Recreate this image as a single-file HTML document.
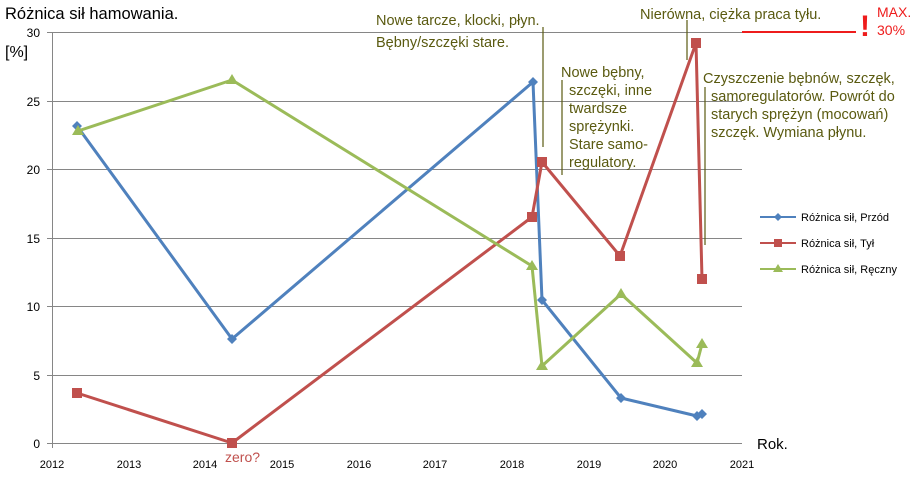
<!DOCTYPE html>
<html><head><meta charset="utf-8"><style>
body{margin:0;background:#fff;}
svg text{font-family:"Liberation Sans",sans-serif;}
</style></head><body>
<svg width="918" height="480" xmlns="http://www.w3.org/2000/svg">
<rect width="918" height="480" fill="#fff"/>
<g stroke="#868686" stroke-width="1">
<line x1="47" y1="32.5" x2="742" y2="32.5"/>
<line x1="47" y1="101.5" x2="742" y2="101.5"/>
<line x1="47" y1="169.5" x2="742" y2="169.5"/>
<line x1="47" y1="238.5" x2="742" y2="238.5"/>
<line x1="47" y1="306.5" x2="742" y2="306.5"/>
<line x1="47" y1="375.5" x2="742" y2="375.5"/>
<line x1="47" y1="443.5" x2="742" y2="443.5"/>
<line x1="52.5" y1="32" x2="52.5" y2="448"/>
</g>
<g font-size="12" fill="#000" text-anchor="end">
<text x="40" y="37">30</text><text x="40" y="106">25</text><text x="40" y="174">20</text>
<text x="40" y="243">15</text><text x="40" y="311">10</text><text x="40" y="380">5</text><text x="40" y="448">0</text>
</g>
<g font-size="11" fill="#000" text-anchor="middle">
<text x="52" y="468">2012</text><text x="129" y="468">2013</text><text x="205" y="468">2014</text>
<text x="282" y="468">2015</text><text x="359" y="468">2016</text><text x="435" y="468">2017</text>
<text x="512" y="468">2018</text><text x="589" y="468">2019</text><text x="665" y="468">2020</text><text x="742" y="468">2021</text>
</g>
<text x="5" y="19" font-size="16.5">Różnica sił hamowania.</text>
<text x="5" y="57" font-size="16">[%]</text>
<text x="757" y="449" font-size="15">Rok.</text>
<text x="225" y="462" font-size="14" fill="#c0504d">zero?</text>
<g fill="none" stroke-width="3" stroke-linejoin="round">
<polyline stroke="#4f81bd" points="77,126 232,339 533,82 542,300 621,398 697,416 702,414"/>
<polyline stroke="#c0504d" points="77,393 232,443 532,217 542,162 620,256 696,43 702,279"/>
<polyline stroke="#9bbb59" points="78,131 232,80 532,266 542,366 621,294 697,363 702,344"/>
</g>
<g fill="#4f81bd">
<path d="M77,121l5,5l-5,5l-5,-5z M232,334l5,5l-5,5l-5,-5z M533,77l5,5l-5,5l-5,-5z M542,295l5,5l-5,5l-5,-5z M621,393l5,5l-5,5l-5,-5z M697,411l5,5l-5,5l-5,-5z M702,409l5,5l-5,5l-5,-5z"/>
</g>
<g fill="#c0504d">
<rect x="72" y="388" width="10" height="10"/><rect x="227" y="438" width="10" height="10"/>
<rect x="527" y="212" width="10" height="10"/><rect x="537" y="157" width="10" height="10"/>
<rect x="615" y="251" width="10" height="10"/><rect x="691" y="38" width="10" height="10"/>
<rect x="697" y="274" width="10" height="10"/>
</g>
<g fill="#9bbb59">
<path d="M78,125l6,10h-12z M232,74l6,10h-12z M532,260l6,10h-12z M542,360l6,10h-12z M621,288l6,10h-12z M697,357l6,10h-12z M702,338l6,10h-12z"/>
</g>
<g stroke-width="2" fill="none">
<line x1="760" y1="217" x2="796" y2="217" stroke="#4f81bd"/>
<line x1="760" y1="243" x2="796" y2="243" stroke="#c0504d"/>
<line x1="760" y1="269" x2="796" y2="269" stroke="#9bbb59"/>
</g>
<path d="M778,213l4,4l-4,4l-4,-4z" fill="#4f81bd"/>
<rect x="774" y="239" width="8" height="8" fill="#c0504d"/>
<path d="M778,264l5,8h-10z" fill="#9bbb59"/>
<g font-size="11" fill="#000">
<text x="801" y="221">Różnica sił, Przód</text>
<text x="801" y="247">Różnica sił, Tył</text>
<text x="801" y="273">Różnica sił, Ręczny</text>
</g>
<g stroke="#5a5a10" stroke-width="1.2">
<line x1="543" y1="27" x2="543" y2="147"/>
<line x1="562" y1="80" x2="562" y2="175"/>
<line x1="687" y1="20" x2="687" y2="60"/>
<line x1="705" y1="87" x2="705" y2="245"/>
</g>
<g font-size="14.5" fill="#5a5a10">
<text x="376" y="25">Nowe tarcze, klocki, płyn.</text>
<text x="376" y="47">Bębny/szczęki stare.</text>
<text x="561" y="77">Nowe bębny,</text>
<text x="569" y="95">szczęki, inne</text>
<text x="569" y="113">twardsze</text>
<text x="569" y="131">sprężynki.</text>
<text x="569" y="149">Stare samo-</text>
<text x="569" y="167">regulatory.</text>
<text x="640" y="19">Nierówna, ciężka praca tyłu.</text>
<text x="703" y="83">Czyszczenie bębnów, szczęk,</text>
<text x="711" y="101">samoregulatorów. Powrót do</text>
<text x="711" y="119">starych sprężyn (mocowań)</text>
<text x="711" y="137">szczęk. Wymiana płynu.</text>
</g>
<line x1="742" y1="32" x2="856" y2="32" stroke="#ee1c1c" stroke-width="2"/>
<text x="860" y="36" font-size="30" fill="#ee1c1c" font-weight="bold">!</text>
<text x="877" y="17" font-size="14" fill="#ee1c1c">MAX.</text>
<text x="877" y="35" font-size="14" fill="#ee1c1c">30%</text>
</svg>
</body></html>
